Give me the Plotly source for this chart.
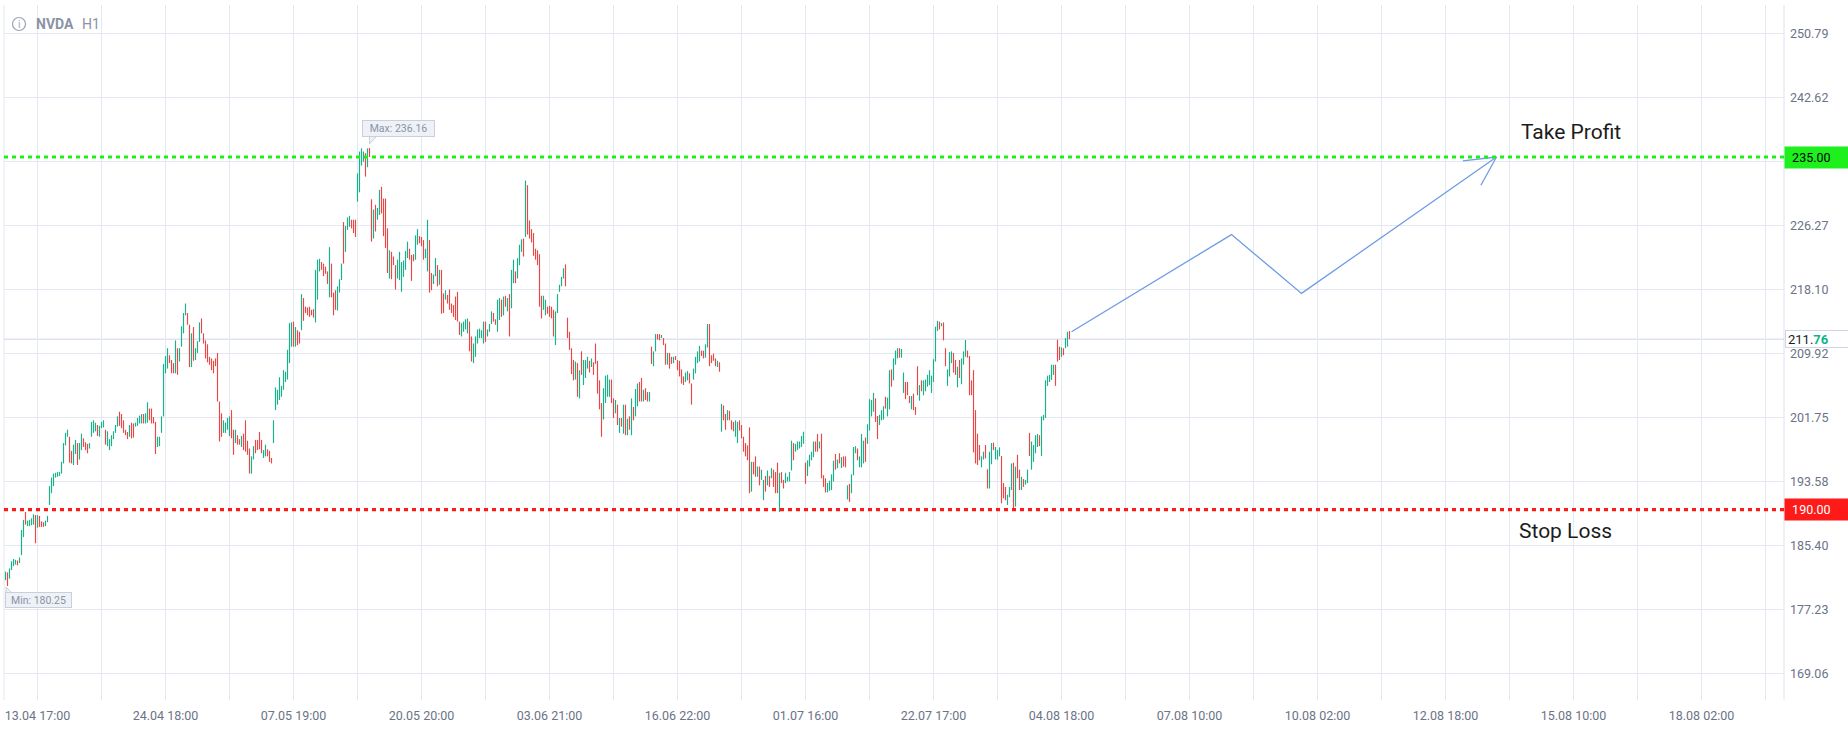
import plotly.graph_objects as go

# ---------------- data ----------------
opens = [
    181.0,182.0,181.2,182.3,182.8,183.0,183.5,183.2,184.2,186.5,
    189.7,187.9,187.9,188.0,188.1,189.3,187.7,189.2,188.5,188.4,
    187.9,188.4,190.6,192.1,193.0,194.1,194.2,194.3,194.6,195.9,
    198.2,199.3,199.3,197.5,195.7,197.1,198.5,196.4,197.6,199.1,
    198.6,198.4,197.8,199.3,199.8,200.0,200.8,199.3,200.4,200.5,
    200.2,198.1,197.6,198.1,199.0,199.8,200.6,202.5,202.2,201.4,
    200.2,199.9,199.3,201.1,201.0,200.6,200.7,201.0,201.0,202.2,
    201.0,201.1,202.9,202.9,201.8,201.2,198.0,198.1,199.8,201.9,
    207.4,208.0,209.7,209.1,208.7,207.4,210.6,208.9,210.8,212.5,
    214.8,215.1,213.6,208.2,213.3,209.1,210.0,211.4,214.4,212.5,
    211.6,211.1,209.5,209.3,209.0,209.3,210.0,203.8,202.3,199.8,
    199.8,200.2,199.4,202.7,200.2,198.5,199.5,199.0,198.0,199.7,
    201.4,198.8,197.8,194.6,196.4,198.9,198.9,199.9,198.9,196.6,
    196.8,197.7,197.5,196.6,198.5,202.7,203.4,204.0,204.4,205.3,
    206.3,206.6,208.7,210.8,214.0,210.8,212.9,212.7,
    212.9,217.0,215.9,215.8,215.9,215.5,215.6,213.9,216.8,220.4,
    221.6,221.4,221.0,220.4,217.1,221.4,217.7,218.0,215.4,217.7,
    219.3,226.7,222.9,225.7,226.1,227.0,227.0,227.0,229.3,230.5,
    233.9,234.4,235.5,233.7,236.16,229.6,224.6,228.9,227.0,227.6,
    231.2,229.7,229.7,225.9,219.5,222.9,222.3,221.2,219.5,219.3,
    217.8,219.7,220.6,222.1,223.3,222.5,222.6,221.9,223.8,224.9,
    224.8,224.4,222.1,220.4,224.4,220.2,218.8,219.8,221.2,218.7,
    220.6,217.6,216.8,217.4,218.1,216.3,216.1,217.2,217.8,214.0,
    212.1,212.7,213.0,212.5,214.0,212.1,208.7,209.5,211.2,211.9,
    211.9,211.2,
    214.0,212.1,212.7,213.7,215.1,214.3,212.7,214.2,216.8,214.8,
    217.3,215.3,217.5,215.7,218.9,220.4,219.5,221.2,222.9,224.6,
    224.8,231.4,226.9,225.8,225.3,223.3,223.1,222.6,217.3,215.5,
    214.8,215.9,216.0,215.9,215.5,211.0,215.1,217.8,218.5,219.5,
    221.3,214.5,212.7,210.6,209.1,206.6,208.7,204.2,210.2,205.9,
    206.8,208.0,209.0,208.2,208.8,211.2,209.0,206.5,203.6,201.5,
    203.6,204.4,204.4,206.6,204.2,202.3,203.4,199.8,201.7,199.7,
    203.4,199.5,201.9,199.5,203.1,201.9,203.2,206.3,206.8,203.8,
    205.5,205.0,203.8,210.8,208.3,210.2,212.4,212.4,211.9,211.9,
    211.2,208.5,210.0,209.5,208.7,209.6,209.1,209.0,207.9,207.0,
    206.3,206.5,207.4,206.1,206.6,207.4,208.7,208.9,
    210.3,210.3,209.4,210.7,213.7,209.7,209.9,209.3,208.2,208.8,
    199.95,203.3,202.2,201.4,202.6,201.4,201.2,199.3,198.5,201.4,
    200.8,199.3,198.5,198.2,200.5,192.3,196.1,196.8,194.2,195.5,
    193.8,191.2,194.3,193.1,194.3,194.0,195.1,194.8,196.0,189.7,
    194.8,193.8,193.4,193.6,193.6,195.0,198.5,197.4,197.6,197.8,
    198.0,198.4,196.0,194.3,195.5,196.3,196.7,198.7,199.65,197.8,
    199.7,194.4,194.0,192.2,192.4,192.5,193.6,197.1,195.3,197.2,
    195.3,196.8,196.8,191.3,193.3,192.1,194.4,197.2,197.8,195.4,
    195.4,195.9,199.2,198.4,200.1,201.9,202.5,204.2,201.95,200.8,
    201.4,201.5,204.4,201.9,202.8,207.9,206.5,208.5,209.3,210.6,
    209.4,204.9,
    206.3,206.3,204.5,202.8,204.8,203.1,208.3,203.9,206.5,204.6,
    205.1,205.7,205.9,204.9,206.3,208.9,212.8,214.0,213.4,213.9,
    210.6,205.8,207.0,208.7,210.0,209.1,205.6,209.1,206.0,208.5,
    209.5,210.3,209.6,206.5,207.8,202.7,199.7,198.25,195.4,196.4,
    198.25,195.15,192.7,195.8,198.55,196.4,196.4,196.8,196.85,193.4,
    192.9,190.6,191.6,192.5,196.0,190.4,197.0,195.1,192.5,193.9,
    193.2,193.4,199.8,195.1,196.1,197.2,198.0,199.5,196.85,201.4,
    201.7,205.8,206.3,206.55,207.2,208.5,211.7,210.8,209.5,210.6,
    210.6,210.8,212.8,
]

closes = [
    182.1,180.25,182.5,183.4,183.7,183.6,182.9,183.9,187.4,188.7,
    188.1,188.6,188.7,188.9,189.4,185.7,189.3,187.8,187.8,187.8,
    188.6,189.2,193.0,194.1,194.6,194.7,194.8,194.8,196.1,198.5,
    199.8,200.2,196.0,195.9,198.3,198.9,195.7,198.5,199.7,198.0,
    197.6,197.2,198.5,201.2,201.4,201.1,199.4,200.7,201.2,201.4,
    198.3,200.0,199.0,199.5,200.0,200.8,201.9,200.7,200.4,199.8,
    199.5,199.0,200.8,199.1,199.2,201.1,201.7,202.0,202.2,201.0,
    202.3,203.7,201.4,201.0,201.0,197.1,199.3,199.3,201.9,208.6,
    209.6,210.6,208.7,207.4,207.4,211.6,207.2,210.6,213.4,215.1,
    216.3,213.6,208.2,212.5,209.0,210.6,211.5,213.9,212.5,211.2,
    209.3,208.8,208.5,207.8,207.4,208.3,203.8,198.7,199.3,201.4,
    201.1,201.7,201.9,199.1,197.0,200.2,198.3,198.3,199.4,197.6,
    197.4,197.0,194.6,196.8,198.1,197.2,197.6,197.7,197.2,197.6,
    198.3,196.8,196.1,195.9,201.4,205.6,205.3,206.9,205.8,207.8,
    207.6,210.4,213.8,213.9,210.8,213.3,211.0,211.2,
    217.5,214.1,215.1,214.8,214.6,214.8,214.5,220.6,221.9,222.0,
    220.6,219.8,220.1,218.8,223.5,217.1,214.8,215.5,218.5,219.4,
    221.4,221.4,226.2,227.3,227.5,225.9,225.3,224.8,232.9,235.7,
    236.1,235.7,232.5,236.1,235.0,224.2,228.3,225.5,228.5,230.8,
    227.8,224.9,223.4,220.2,223.1,219.4,221.2,218.1,221.9,222.9,
    221.6,221.8,223.0,224.2,221.9,219.2,221.7,225.0,225.8,224.0,
    223.6,221.9,223.3,227.0,217.7,218.0,220.0,222.1,218.5,220.6,
    215.0,215.1,218.0,216.3,215.5,215.1,214.6,214.2,214.0,212.3,
    213.8,214.0,214.3,214.4,210.2,208.9,211.2,212.1,213.0,213.1,
    212.9,214.0,
    211.4,213.0,213.7,215.3,214.0,213.6,216.8,217.0,214.6,217.2,
    215.9,217.0,212.1,220.6,221.9,218.9,222.1,223.8,224.5,222.3,
    232.0,225.1,224.6,224.1,222.4,221.9,221.2,215.9,214.4,217.3,
    216.8,215.0,214.6,214.4,212.1,215.3,217.5,218.7,219.7,220.8,
    218.5,211.9,210.4,207.3,206.5,208.9,204.4,207.8,207.2,209.1,
    209.1,209.5,207.5,209.3,207.2,208.6,204.8,202.8,199.3,205.5,
    207.1,207.2,206.6,203.6,201.7,204.0,200.8,201.7,200.6,203.4,
    199.5,201.6,200.2,204.2,201.4,205.4,206.1,203.8,203.8,205.3,
    204.0,203.8,205.0,208.6,210.2,212.4,211.7,211.6,212.3,211.0,
    208.5,210.0,208.0,208.6,209.5,209.1,207.8,207.0,206.1,205.9,
    207.5,207.7,206.1,203.4,208.0,209.5,210.2,210.9,
    209.6,209.3,211.1,213.7,208.3,208.7,209.0,208.3,209.0,207.6,
    203.5,201.4,200.2,202.7,201.4,200.2,200.0,201.4,201.2,200.1,
    199.1,197.4,196.8,196.3,192.1,196.1,194.5,194.2,195.5,193.1,
    195.1,193.8,192.3,195.0,192.9,195.3,192.9,192.1,192.1,194.7,
    193.4,192.7,194.7,194.2,194.8,198.8,196.3,198.4,198.7,198.7,
    199.4,199.95,193.3,196.3,197.0,197.4,198.7,197.4,197.4,198.7,
    194.0,192.9,192.2,193.4,193.7,194.5,196.25,195.1,196.4,195.9,
    196.7,195.5,195.4,193.1,191.0,194.5,198.0,198.1,196.3,196.8,
    199.65,198.8,196.1,200.9,204.1,204.0,204.9,201.2,199.0,202.1,
    202.7,203.2,202.9,204.3,207.8,205.7,209.3,210.3,210.6,209.4,
    210.5,207.5,
    204.1,204.6,203.6,204.5,202.7,202.1,204.6,205.9,205.1,206.5,
    206.6,207.2,207.8,207.1,209.2,213.35,214.1,213.0,213.8,211.6,
    208.3,207.9,210.1,210.2,207.5,207.2,208.25,206.8,209.3,210.2,
    211.65,209.4,204.6,204.6,197.3,195.9,195.7,196.3,196.8,197.4,
    196.55,192.7,197.4,198.5,197.6,198.0,197.6,197.95,190.8,191.45,
    191.2,191.9,192.9,195.9,190.2,195.5,194.0,192.5,194.2,192.9,
    193.8,195.1,196.85,198.7,198.25,199.5,199.65,198.1,201.9,202.1,
    206.5,207.1,207.2,208.5,208.5,205.8,208.9,209.1,210.7,209.7,
    211.9,212.7,211.76,
]

bar_index = list(range(len(opens)))
highs = [max(o, c) for o, c in zip(opens, closes)]
lows = [min(o, c) for o, c in zip(opens, closes)]

x_tick_labels = ["13.04 17:00", "24.04 18:00", "07.05 19:00", "20.05 20:00",
                 "03.06 21:00", "16.06 22:00", "01.07 16:00", "22.07 17:00",
                 "04.08 18:00", "07.08 10:00", "10.08 02:00", "12.08 18:00",
                 "15.08 10:00", "18.08 02:00"]
x_label_first = 16
x_label_step = 64

y_tick_values = [169.06, 177.23, 185.40, 193.58, 201.75, 209.92, 218.10,
                 226.27, 234.44, 242.62, 250.79]
y_tick_labels = ["169.06", "177.23", "185.40", "193.58", "201.75", "209.92",
                 "218.10", "226.27", "", "242.62", "250.79"]

take_profit = 235.00
stop_loss = 190.00
last_price = 211.76
max_price = 236.16
max_bar = 182
min_price = 180.25
min_bar = 1

# projected path drawn on the chart (bar index, price)
path_x = [533, 613, 648, 745.5]
path_y = [212.7, 225.1, 217.6, 235.0]
head_x = [728.7, 745.5, 737.7]
head_y = [234.5, 235.0, 231.4]

# ---------------- styling ----------------
UP = "#14b38a"
DOWN = "#ef4444"
GRID = "#e4e8f1"
TICK = "#6b7385"
FONT = "Roboto"

x_range = [-0.75, 889.25]
y_range = [165.71, 254.40]

grid_vals = [x_label_first + (x_label_step // 2) * k for k in range(28)]
grid_text = [x_tick_labels[k // 2] if k % 2 == 0 else "" for k in range(28)]

# thin hourly candles: one vertical stroke from low to high per bar
up_x, up_y, dn_x, dn_y = [], [], [], []
for i, o, c, h, l in zip(bar_index, opens, closes, highs, lows):
    if c >= o:
        up_x += [i, i, None]
        up_y += [l, h, None]
    else:
        dn_x += [i, i, None]
        dn_y += [h, l, None]

fig = go.Figure()

fig.add_trace(go.Scatter(x=up_x, y=up_y, mode="lines",
                         line=dict(color=UP, width=1.15),
                         hoverinfo="skip", showlegend=False))
fig.add_trace(go.Scatter(x=dn_x, y=dn_y, mode="lines",
                         line=dict(color=DOWN, width=1.15),
                         hoverinfo="skip", showlegend=False))

fig.add_trace(go.Scatter(
    x=path_x, y=path_y, mode="lines",
    line=dict(color="#6f9ce6", width=1.3), hoverinfo="skip", showlegend=False,
))
fig.add_trace(go.Scatter(
    x=head_x, y=head_y, mode="lines",
    line=dict(color="#6f9ce6", width=1.3), hoverinfo="skip", showlegend=False,
))

shapes = [
    dict(type="line", xref="paper", yref="paper", x0=0, x1=0, y0=0, y1=1,
         line=dict(color=GRID, width=1), layer="between"),
    dict(type="line", xref="paper", yref="paper", x0=1, x1=1, y0=0, y1=1,
         line=dict(color="#dde2ec", width=1), layer="between"),
    dict(type="line", xref="paper", yref="y", x0=0, x1=1, y0=last_price, y1=last_price,
         line=dict(color="#cfd3ee", width=1), layer="between"),
    dict(type="line", xref="paper", yref="y", x0=0, x1=1, y0=take_profit, y1=take_profit,
         line=dict(color="#1ef01e", width=3.2, dash="4px,4px"), layer="above"),
    dict(type="line", xref="paper", yref="y", x0=0, x1=1, y0=stop_loss, y1=stop_loss,
         line=dict(color="#ff1a1a", width=3.2, dash="4px,4px"), layer="above"),
    dict(type="path", xref="x", yref="y", xsizemode="pixel", ysizemode="pixel",
         xanchor=max_bar, yanchor=max_price, path="M 0,4 L 0,11.5 L 7,11.5 Z",
         fillcolor="#eef1f6", line=dict(color="#c9cfdb", width=1), layer="above"),
    dict(type="path", xref="x", yref="y", xsizemode="pixel", ysizemode="pixel",
         xanchor=min_bar, yanchor=min_price, path="M -1.5,-1 L -1.5,-7.5 L 5,-7.5 Z",
         fillcolor="#eef1f6", line=dict(color="#c9cfdb", width=1), layer="above"),
    dict(type="circle", xref="paper", yref="paper", xsizemode="pixel", ysizemode="pixel",
         xanchor=(19 - 4) / 1780, yanchor=(700 - 24) / 695, x0=-6.5, x1=6.5, y0=-6.5, y1=6.5,
         line=dict(color="#9aa1b3", width=1.2)),
]

annotations = [
    dict(xref="paper", yref="paper", x=(34 - 4) / 1780, y=(700 - 24) / 695,
         xanchor="left", yanchor="middle", showarrow=False,
         text="<b>NVDA</b>", font=dict(family=FONT, size=14, color="#8b93a7")),
    dict(xref="paper", yref="paper", x=(80 - 4) / 1780, y=(700 - 24) / 695,
         xanchor="left", yanchor="middle", showarrow=False,
         text="H1", font=dict(family=FONT, size=14, color="#8b93a7")),
    dict(xref="paper", yref="paper", x=(19 - 4) / 1780, y=(700 - 24.5) / 695,
         xanchor="center", yanchor="middle", showarrow=False,
         text="i", font=dict(family=FONT, size=10, color="#9aa1b3")),
    dict(x=196.6, y=238.62, xref="x", yref="y", showarrow=False,
         text="Max: 236.16", font=dict(family=FONT, size=10.5, color="#8a93a6"),
         bgcolor="#eef1f6", bordercolor="#c9cfdb", borderwidth=1, borderpad=1.5,
         width=68, height=12),
    dict(x=16.4, y=178.41, xref="x", yref="y", showarrow=False,
         text="Min: 180.25", font=dict(family=FONT, size=10.5, color="#8a93a6"),
         bgcolor="#eef1f6", bordercolor="#c9cfdb", borderwidth=1, borderpad=1.5,
         width=62, height=11),
    dict(x=782.7, y=238.23, xref="x", yref="y", showarrow=False,
         text="Take Profit", font=dict(family=FONT, size=21, color="#1c1c1c")),
    dict(x=779.9, y=187.28, xref="x", yref="y", showarrow=False,
         text="Stop Loss", font=dict(family=FONT, size=21, color="#1c1c1c")),
    dict(xref="paper", yref="y", x=1, y=take_profit, xanchor="left", yanchor="middle",
         showarrow=False, text="&nbsp;235.00", align="left",
         font=dict(family=FONT, size=12.5, color="#000000"),
         bgcolor="#1ef01e", borderpad=4, width=56, height=13),
    dict(xref="paper", yref="y", x=1, y=stop_loss, xanchor="left", yanchor="middle",
         showarrow=False, text="&nbsp;190.00", align="left",
         font=dict(family=FONT, size=12.5, color="#ffffff"),
         bgcolor="#ff1a1a", borderpad=4, width=56, height=13),
    dict(xref="paper", yref="y", x=1, y=last_price, xanchor="left", yanchor="middle",
         xshift=1, showarrow=False,
         text="211.<b><span style='color:#12b38a'>76</span></b>", align="left",
         font=dict(family=FONT, size=13, color="#1a1d26"),
         bgcolor="#ffffff", bordercolor="#cfd5e1", borderwidth=1, borderpad=2,
         width=58, height=12),
]

fig.update_layout(
    width=1848, height=729,
    margin=dict(l=4, r=64, t=5, b=29),
    paper_bgcolor="#ffffff", plot_bgcolor="#ffffff",
    font=dict(family=FONT, color=TICK),
    showlegend=False,
    shapes=shapes,
    annotations=annotations,
    hovermode=False,
    xaxis=dict(
        range=x_range, tickmode="array", tickvals=grid_vals, ticktext=grid_text,
        showgrid=True, gridcolor=GRID, gridwidth=1, zeroline=False, showline=False,
        ticks="", tickfont=dict(family=FONT, size=12.5, color=TICK),
        ticklabelstandoff=6, fixedrange=True,
    ),
    yaxis=dict(
        range=y_range, side="right", tickmode="array", tickvals=y_tick_values,
        ticktext=y_tick_labels, showgrid=True, gridcolor=GRID, gridwidth=1,
        zeroline=False, showline=False, ticks="",
        tickfont=dict(family=FONT, size=12.5, color=TICK),
        ticklabelstandoff=5, fixedrange=True,
    ),
)

fig.write_html(
    "out.html",
    config={"displayModeBar": False},
    post_script="document.body.style.margin='0';document.body.style.overflow='hidden';",
)
